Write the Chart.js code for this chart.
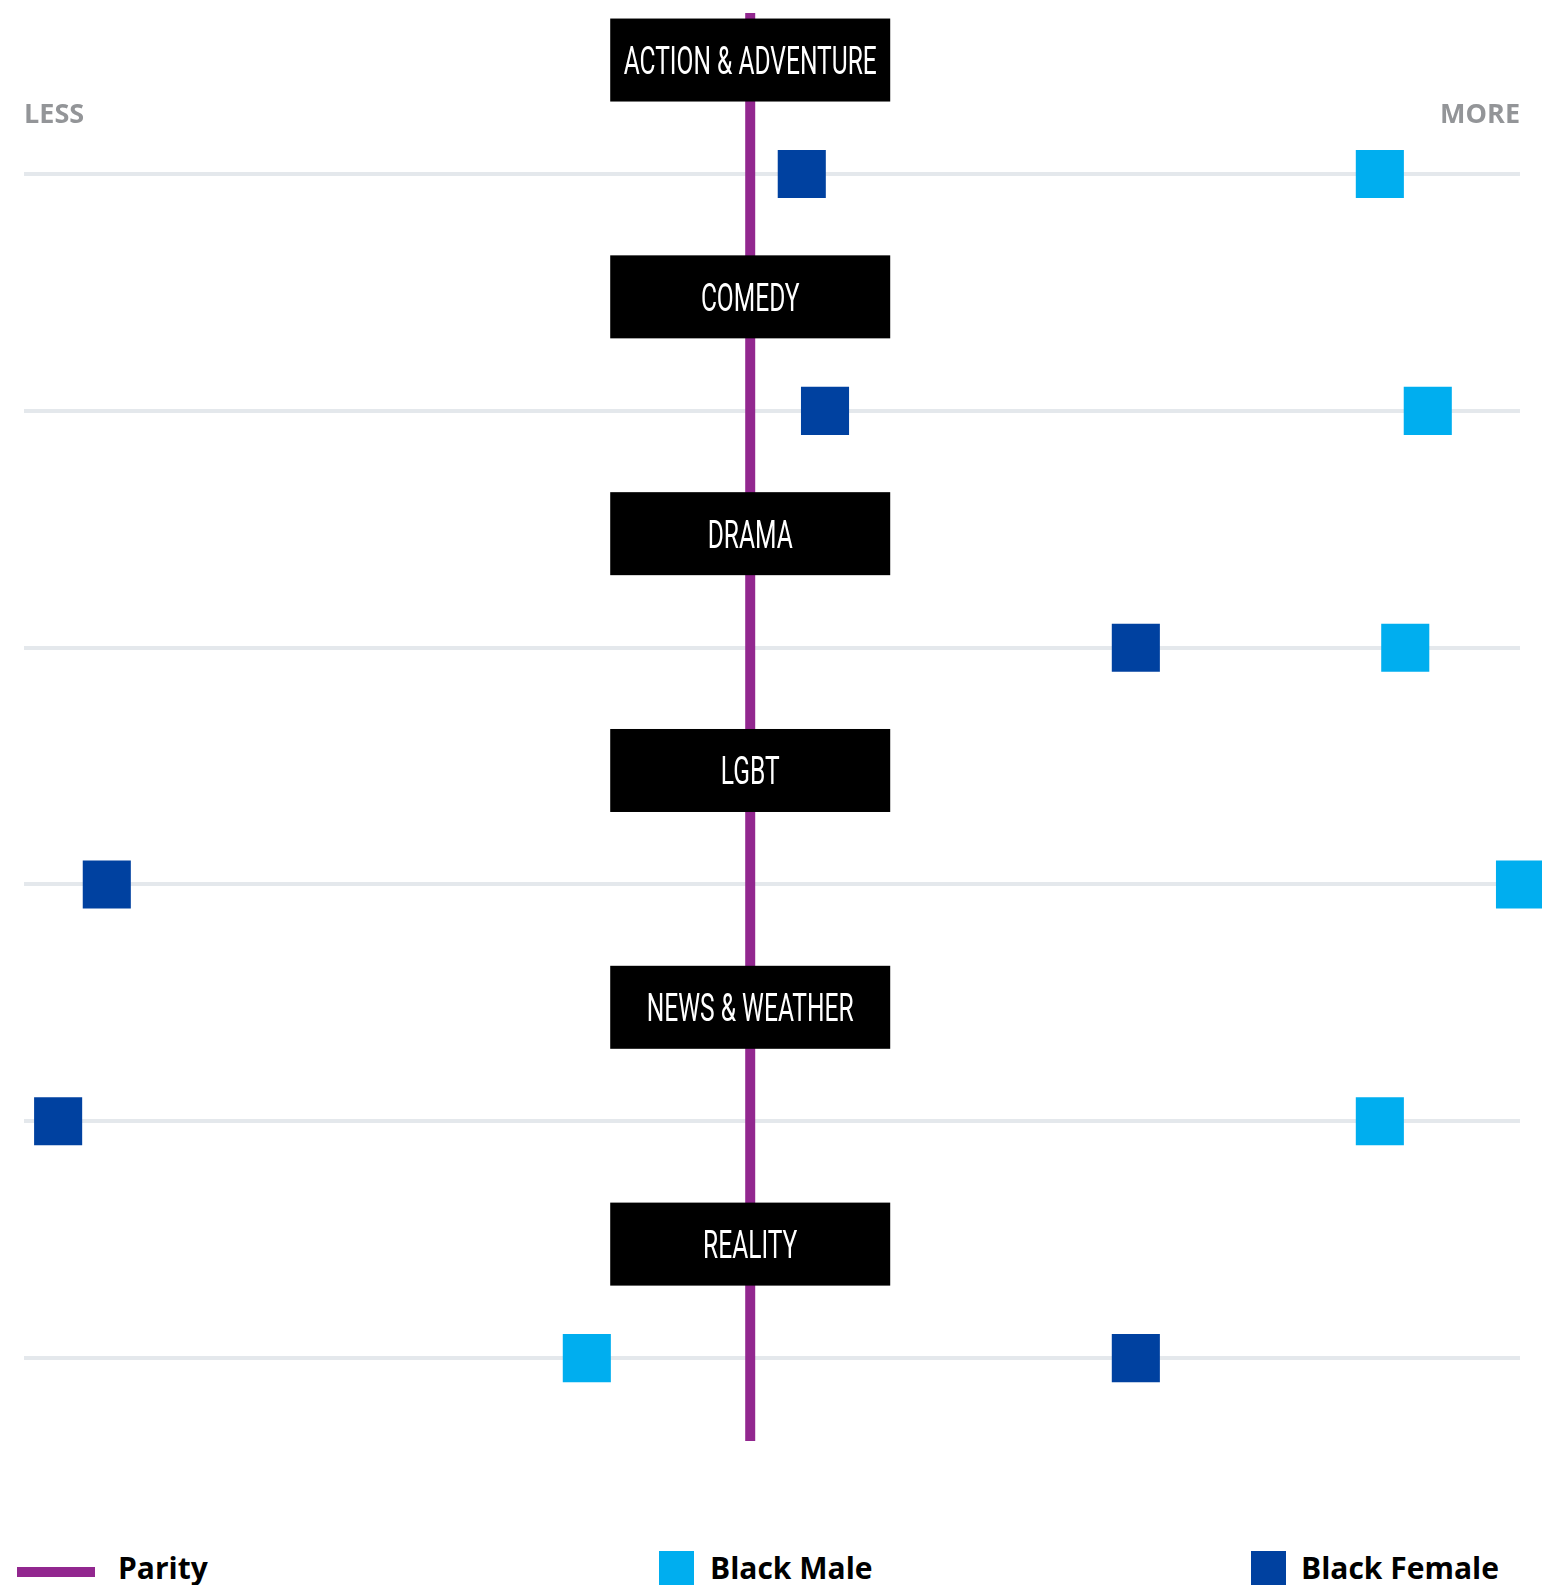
<!DOCTYPE html>
<html>
<head>
<meta charset="utf-8">
<title>Representation by genre</title>
<script src="https://cdn.jsdelivr.net/npm/chart.js@4.4.1/dist/chart.umd.min.js"></script>
<style>
    html, body { margin: 0; padding: 0; background: #fff; width: 1542px; height: 1585px; overflow: hidden; }
    #chartWrap { position: absolute; left: 0; top: 0; width: 1542px; height: 1500px; }
    .swatch { position: absolute; }
    .legend-text {
        position: absolute;
        top: 1548px;
        font-family: 'Open Sans', sans-serif;
        font-weight: 700;
        font-size: 30px;
        line-height: 40px;
        color: #000;
        white-space: nowrap;
    }
</style>
</head>
<body>
<div id="chartWrap"><canvas id="genreChart"></canvas></div>

<div class="swatch" style="left:17px; top:1567px; width:78px; height:10px; background:#92278f;"></div>
<div class="legend-text" style="left:118px;">Parity</div>
<div class="swatch" style="left:659px; top:1551px; width:35px; height:40px; background:#00aeef;"></div>
<div class="legend-text" style="left:710px;">Black Male</div>
<div class="swatch" style="left:1251px; top:1551px; width:35px; height:40px; background:#0041a0;"></div>
<div class="legend-text" style="left:1301px;">Black Female</div>

<script>
// Data (0 = parity)
const genres = ['ACTION & ADVENTURE', 'COMEDY', 'DRAMA', 'LGBT', 'NEWS & WEATHER', 'REALITY'];
const blackMale = [86.7, 93.3, 90.2, 106, 86.7, -22.5];
const blackFemale = [7.1, 10.3, 53.1, -88.6, -95.3, 53.1];
const parityValue = 0;
const axisLabels = ['LESS', 'MORE'];

const xMin = -100, xMax = 106;
const yMin = -0.68, yMax = 5.35;

const colors = {
    parity: '#92278f',
    male: '#00aeef',
    female: '#0041a0',
    grid: '#e4e8ec',
    muted: '#939598'
};

// Black genre tags sitting on the parity line + LESS / MORE
const genreTags = {
    id: 'genreTags',
    afterDatasetDraw(chart, args) {
        if (args.index !== 2) return; // right after the parity line
        const { ctx, scales: { x, y } } = chart;
        const cx = x.getPixelForValue(parityValue);
        genres.forEach((g, i) => {
            const cy = y.getPixelForValue(i) - 114;
            ctx.save();
            ctx.fillStyle = '#000';
            ctx.fillRect(cx - 140, cy - 41.5, 280, 83);
            ctx.translate(cx, cy + 14);
            ctx.scale(0.63, 1);
            ctx.fillStyle = '#fff';
            ctx.font = '39px Roboto';
            ctx.textAlign = 'center';
            ctx.textBaseline = 'alphabetic';
            ctx.fillText(g, 0, 0);
            ctx.restore();
        });
    },
    afterDraw(chart) {
        const { ctx, chartArea } = chart;
        ctx.save();
        ctx.fillStyle = colors.muted;
        ctx.font = '700 27px "Open Sans"';
        ctx.textBaseline = 'alphabetic';
        ctx.textAlign = 'left';
        ctx.fillText(axisLabels[0], chartArea.left, 123);
        ctx.textAlign = 'right';
        ctx.fillText(axisLabels[1], chartArea.right, 123);
        ctx.restore();
    }
};

const ctx = document.getElementById('genreChart').getContext('2d');
const genreChart = new Chart(ctx, {
    type: 'scatter',
    data: {
        datasets: [
            {
                label: 'Black Male',
                data: blackMale.map((v, i) => ({ x: v, y: i })),
                backgroundColor: colors.male,
                pointStyle: 'rect',
                pointRadius: 34,
                pointBorderWidth: 0,
                clip: false
            },
            {
                label: 'Black Female',
                data: blackFemale.map((v, i) => ({ x: v, y: i })),
                backgroundColor: colors.female,
                pointStyle: 'rect',
                pointRadius: 34,
                pointBorderWidth: 0,
                clip: false
            },
            {
                type: 'line',
                label: 'Parity',
                data: [{ x: parityValue, y: yMin }, { x: parityValue, y: yMax }],
                borderColor: colors.parity,
                borderWidth: 10,
                borderCapStyle: 'butt',
                pointRadius: 0,
                clip: false
            }
        ]
    },
    options: {
        responsive: true,
        maintainAspectRatio: false,
        animation: false,
        events: [],
        layout: {
            autoPadding: false,
            padding: { left: 24, right: 22, top: 13, bottom: 59 }
        },
        plugins: {
            legend: { display: false },
            tooltip: { enabled: false }
        },
        scales: {
            x: {
                type: 'linear',
                min: xMin,
                max: xMax,
                display: false
            },
            y: {
                type: 'linear',
                reverse: true,
                min: yMin,
                max: yMax,
                afterBuildTicks: (scale) => {
                    scale.ticks = genres.map((g, i) => ({ value: i }));
                },
                grid: {
                    color: colors.grid,
                    lineWidth: 4,
                    drawTicks: false
                },
                border: { display: false },
                ticks: { display: false }
            }
        }
    },
    plugins: [genreTags]
});
</script>
</body>
</html>
